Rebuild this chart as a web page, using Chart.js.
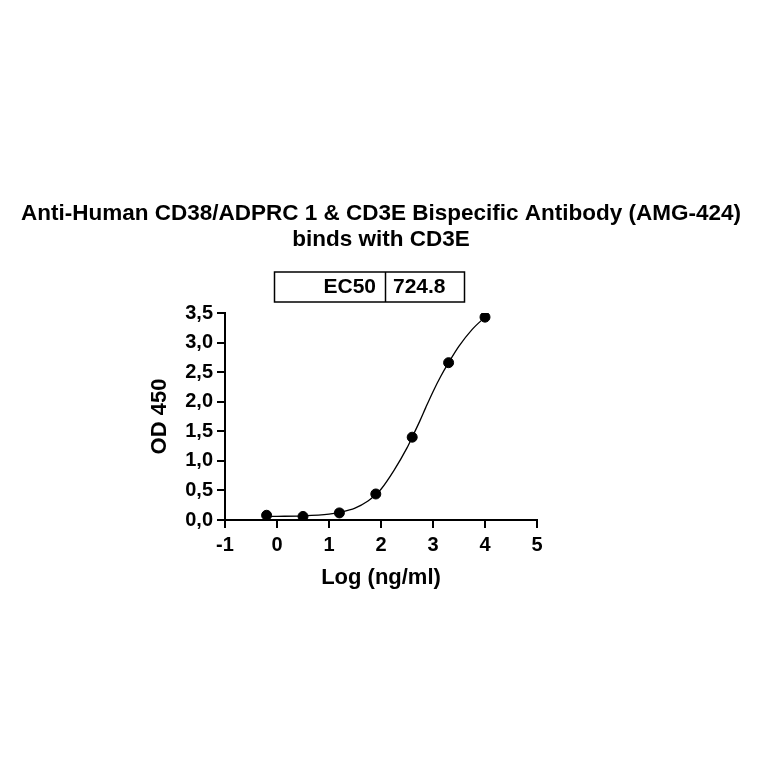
<!DOCTYPE html>
<html>
<head>
<meta charset="utf-8">
<script src="https://cdn.jsdelivr.net/npm/chart.js@4.4.0/dist/chart.umd.min.js"></script>
<style>
  html, body { margin: 0; padding: 0; background: #fff; }
  #wrap { width: 764px; height: 764px; }
</style>
</head>
<body>
<div id="wrap"><canvas id="ecChart" width="764" height="764"></canvas></div>
<script>
// measured points (log concentration, OD 450)
const logConc = [-0.2, 0.5, 1.2, 1.9, 2.6, 3.3, 4.0];
const odValues = [0.08, 0.06, 0.12, 0.44, 1.40, 2.66, 3.43];

// fitted curve
const fitLog = [-0.2, 0, 0.5, 1.0, 1.2, 1.5, 1.75, 1.9, 2.0, 2.25, 2.5, 2.6, 2.75, 2.86, 3.0, 3.15, 3.3, 3.5, 3.75, 4.0];
const fitOd = [0.06, 0.062, 0.07, 0.10, 0.13, 0.20, 0.32, 0.43, 0.52, 0.84, 1.22, 1.40, 1.68, 1.90, 2.17, 2.43, 2.66, 2.94, 3.22, 3.43];

const titleLines = ['Anti-Human CD38/ADPRC 1 & CD3E Bispecific Antibody (AMG-424)', 'binds with CD3E'];
const ec50Label = 'EC50';
const ec50Value = '724.8';

const FONT = '"Liberation Sans", Arial, sans-serif';

// title + EC50 table drawn on top
const extrasPlugin = {
    id: 'extras',
    afterDraw(chart) {
        const ctx = chart.ctx;
        ctx.save();
        ctx.fillStyle = '#000';
        ctx.textAlign = 'center';
        ctx.textBaseline = 'middle';
        ctx.font = 'bold 22.5px ' + FONT;
        ctx.fillText(titleLines[0], 381, 214);
        ctx.fillText(titleLines[1], 381, 240);

        // EC50 box
        ctx.lineWidth = 1.5;
        ctx.strokeStyle = '#000';
        ctx.strokeRect(274.5, 272, 190, 30);
        ctx.beginPath();
        ctx.moveTo(385.5, 272);
        ctx.lineTo(385.5, 302);
        ctx.stroke();
        ctx.font = 'bold 21px ' + FONT;
        ctx.textAlign = 'right';
        ctx.fillText(ec50Label, 376, 287);
        ctx.textAlign = 'left';
        ctx.fillText(ec50Value, 393, 287);
        ctx.restore();
    }
};

const ctx = document.getElementById('ecChart').getContext('2d');
new Chart(ctx, {
    type: 'scatter',
    data: {
        datasets: [
            {
                label: 'fit',
                data: fitLog.map((x, i) => ({ x: x, y: fitOd[i] })),
                showLine: true,
                borderColor: '#000',
                borderWidth: 1.3,
                pointRadius: 0,
                cubicInterpolationMode: 'monotone',
                fill: false
            },
            {
                label: 'data',
                data: logConc.map((x, i) => ({ x: x, y: odValues[i] })),
                showLine: false,
                backgroundColor: '#000',
                borderColor: '#000',
                pointRadius: 5,
                pointHoverRadius: 5
            }
        ]
    },
    options: {
        responsive: false,
        animation: false,
        events: [],
        layout: { padding: { left: 135, right: 227, top: 313, bottom: 169 } },
        plugins: { legend: { display: false }, tooltip: { enabled: false }, title: { display: false } },
        scales: {
            x: {
                type: 'linear',
                min: -1, max: 5,
                afterFit: (s) => { s.height = 75; },
                ticks: {
                    stepSize: 1,
                    color: '#000',
                    padding: 5,
                    font: { family: FONT, size: 20, weight: 'bold' }
                },
                grid: { drawOnChartArea: false, drawTicks: true, tickLength: 8, color: '#000', lineWidth: 2 },
                border: { display: true, color: '#000', width: 2 },
                title: {
                    display: true,
                    text: 'Log (ng/ml)',
                    color: '#000',
                    padding: { top: 0, bottom: 4 },
                    font: { family: FONT, size: 22, weight: 'bold' }
                }
            },
            y: {
                type: 'linear',
                min: 0, max: 3.5,
                afterFit: (s) => { s.width = 90; },
                ticks: {
                    stepSize: 0.5,
                    color: '#000',
                    padding: 4,
                    font: { family: FONT, size: 20, weight: 'bold' },
                    callback: (v) => v.toFixed(1).replace('.', ',')
                },
                grid: { drawOnChartArea: false, drawTicks: true, tickLength: 8, color: '#000', lineWidth: 2 },
                border: { display: true, color: '#000', width: 2 },
                title: {
                    display: true,
                    text: 'OD 450',
                    color: '#000',
                    padding: { top: 12, bottom: 0 },
                    font: { family: FONT, size: 22, weight: 'bold' }
                }
            }
        }
    },
    plugins: [extrasPlugin]
});
</script>
</body>
</html>
